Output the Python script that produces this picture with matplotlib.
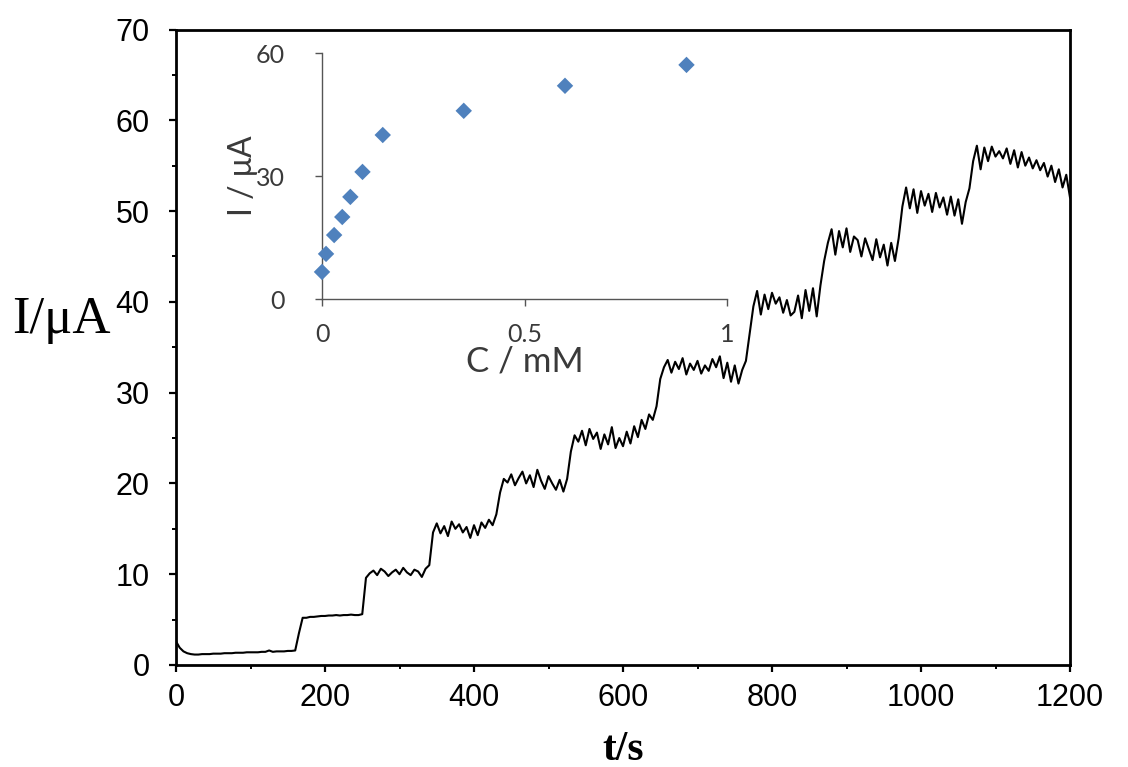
import numpy as np
import matplotlib
matplotlib.use("Agg")
import matplotlib.pyplot as plt
from matplotlib.ticker import MultipleLocator

# ---------------- data ----------------
sample_interval_s = 5
current_uA = [
    2.6, 1.9, 1.5, 1.3, 1.2,
    1.15, 1.15, 1.2, 1.2, 1.2, 1.25,
    1.25, 1.25, 1.3, 1.3, 1.3, 1.35, 1.35, 1.35, 1.4, 1.4,
    1.4, 1.4, 1.45, 1.45, 1.6, 1.45, 1.5, 1.5, 1.5, 1.55, 1.55,
    1.6,
    3.5, 5.2,
    5.2, 5.3, 5.3, 5.35, 5.4, 5.4, 5.45, 5.45, 5.5, 5.45, 5.5, 5.5, 5.55, 5.5, 5.5,
    5.6,
    9.6,
    10.1, 10.4, 9.9, 10.6, 10.3, 9.8, 10.2, 10.5, 10.0, 10.7, 10.2, 9.9, 10.5, 10.3, 9.7, 10.6,
    11.0, 14.6,
    15.6, 14.5, 15.3, 14.2, 15.8, 15.0, 15.5, 14.6, 15.2, 14.0, 15.4, 14.3, 15.7, 15.1, 16.0, 15.4,
    16.6, 19.0, 20.5,
    20.1, 21.0, 19.8, 20.6, 21.3, 20.0, 20.9, 19.6, 21.5, 20.3, 19.4, 20.8, 20.0, 19.3, 20.4, 19.1, 20.5,
    23.5,
    25.3, 24.6, 25.8, 24.2, 26.0, 24.9, 25.6, 23.8, 25.4, 24.3, 26.2, 23.9, 25.0, 24.1, 25.7, 24.4,
    26.3, 25.1, 27.0, 26.0, 27.6, 27.0, 28.5,
    31.5,
    32.8, 33.6, 32.2, 33.4, 32.6, 33.8, 32.0, 33.2, 32.5, 33.5, 32.1, 33.0, 32.4, 33.7, 32.8, 34.0,
    31.6, 33.3, 31.2, 33.0, 31.0, 32.5, 33.5,
    36.5, 39.5,
    41.2, 38.6, 40.8, 39.2, 41.0, 39.8, 40.5, 38.8, 40.2, 38.5, 38.9, 40.7, 38.2, 41.3, 39.0, 41.5, 38.4, 41.8,
    44.5, 46.5,
    48.0, 45.2, 47.8, 46.0, 48.1, 45.5, 47.2, 46.8, 45.0, 47.0, 45.8, 44.6, 46.9, 44.9, 46.3, 44.0, 46.5, 44.5,
    47.0, 50.5,
    52.6, 50.3, 52.4, 49.8, 52.2, 50.6, 51.9, 49.9, 52.0, 50.4, 51.5, 49.6, 51.6, 49.5, 51.3, 48.6, 51.0, 52.5,
    55.5,
    57.2, 54.6, 57.0, 55.5, 57.1, 56.0, 56.6, 55.8, 56.9, 55.2, 56.7, 54.8, 56.5, 55.0, 55.9, 54.7,
    55.6, 54.5, 55.3, 53.8, 55.0, 53.2, 54.6, 52.6, 54.0, 51.5,
]
time_s = np.arange(len(current_uA)) * sample_interval_s

conc_mM = [0.0, 0.01, 0.03, 0.05, 0.07, 0.10, 0.15, 0.35, 0.60, 0.90]
cal_current_uA = [6.6, 11.0, 15.6, 20.0, 24.9, 31.0, 40.0, 45.9, 52.0, 57.1]

main_xticks = [0, 200, 400, 600, 800, 1000, 1200]
main_yticks = [0, 10, 20, 30, 40, 50, 60, 70]
inset_xticks = [0, 0.5, 1]
inset_xticklabels = ["0", "0.5", "1"]
inset_yticks = [0, 30, 60]

# ---------------- figure ----------------
W, H = 1128, 767
fig = plt.figure(figsize=(W / 100, H / 100), dpi=100)

sans = ["Liberation Sans", "DejaVu Sans"]
serif = ["Liberation Serif", "DejaVu Serif"]
inset_font = ["Lato", "DejaVu Sans"]

ax = fig.add_axes([176 / W, 1 - 665 / H, (1070 - 176) / W, (665 - 29.5) / H])
ax.plot(time_s, current_uA, color="black", lw=1.5)
ax.set_xlim(0, 1200)
ax.set_ylim(0, 70)
ax.set_xticks(main_xticks)
ax.set_yticks(main_yticks)
ax.xaxis.set_minor_locator(MultipleLocator(100))
ax.yaxis.set_minor_locator(MultipleLocator(5))
for s in ax.spines.values():
    s.set_linewidth(2.0)
ax.tick_params(which="major", direction="out", length=5, width=1.6, pad=8)
ax.tick_params(which="minor", direction="out", length=3, width=1.4)
for lab in ax.get_xticklabels() + ax.get_yticklabels():
    lab.set_fontfamily(sans)
    lab.set_fontsize(22)
ax.tick_params(axis="y", pad=14)

ax.set_xlabel("t/s", fontfamily=serif, fontsize=30, fontweight="bold", labelpad=13)
fig.text(12 / W, 1 - 333 / H, "I/\u03bcA", fontfamily=serif, fontsize=38,
         ha="left", va="baseline")

# ---------------- inset ----------------
ins = fig.add_axes([322 / W, 1 - 299 / H, (727 - 322) / W, (299 - 53) / H])
ins.patch.set_alpha(0)
ins.scatter(conc_mM, cal_current_uA, marker="D", s=70, color="#4F81BD",
            edgecolors="none", zorder=3, clip_on=False)
ins.set_xlim(0, 1)
ins.set_ylim(0, 60)
ins.set_xticks(inset_xticks)
ins.set_xticklabels(inset_xticklabels)
ins.set_yticks(inset_yticks)
ins.spines["top"].set_visible(False)
ins.spines["right"].set_visible(False)
for s in ("left", "bottom"):
    ins.spines[s].set_color("#555555")
    ins.spines[s].set_linewidth(1.0)
ins.tick_params(direction="out", length=5, width=1.0, colors="#555555",
                labelcolor="#3a3a3a")
ins.tick_params(axis="x", pad=12)
ins.tick_params(axis="y", pad=22)
for lab in ins.get_xticklabels() + ins.get_yticklabels():
    lab.set_fontfamily(inset_font)
    lab.set_fontsize(18)
ins.set_xlabel("C / mM", fontfamily=inset_font, fontsize=25, color="#3a3a3a", labelpad=0)
ins.set_ylabel("I / \u03bcA", fontfamily=inset_font, fontsize=23, color="#3a3a3a", labelpad=-2)

fig.savefig("out.png", dpi=100)
